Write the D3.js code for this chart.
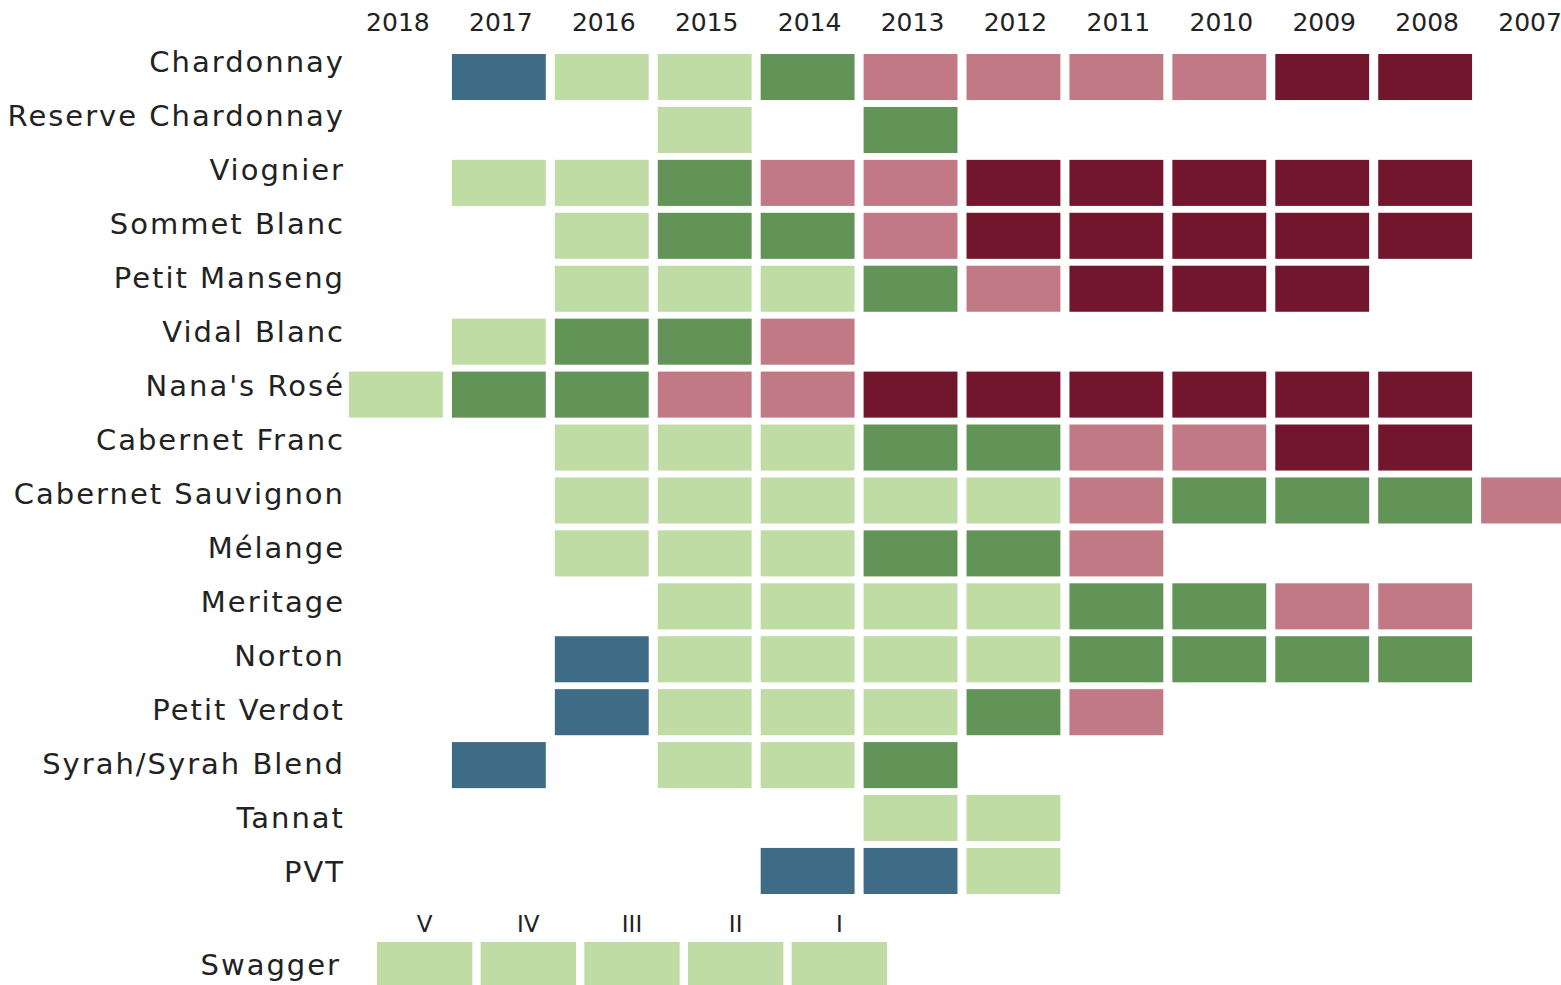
<!DOCTYPE html>
<html>
<head>
<meta charset="utf-8">
<script src="https://cdn.jsdelivr.net/npm/d3@7"></script>
<style>
  body { margin: 0; background: #fff; }
  text { font-family: "DejaVu Sans", sans-serif; fill: #222; }
</style>
</head>
<body>
<div id="chart"></div>
<script>
// vintages, newest first
var years = ["2018", "2017", "2016", "2015", "2014", "2013", "2012", "2011", "2010", "2009", "2008", "2007"];

var wines = ["Chardonnay", "Reserve Chardonnay", "Viognier", "Sommet Blanc", "Petit Manseng", "Vidal Blanc",
    "Nana's Rosé", "Cabernet Franc", "Cabernet Sauvignon", "Mélange", "Meritage", "Norton",
    "Petit Verdot", "Syrah/Syrah Blend", "Tannat", "PVT"];

// B = blue, L = light green, G = green, P = pink, M = maroon, "" = none (columns follow years)
var wineStatus = [
    ["", "B", "L", "L", "G", "P", "P", "P", "P", "M", "M", ""],
    ["", "", "", "L", "", "G", "", "", "", "", "", ""],
    ["", "L", "L", "G", "P", "P", "M", "M", "M", "M", "M", ""],
    ["", "", "L", "G", "G", "P", "M", "M", "M", "M", "M", ""],
    ["", "", "L", "L", "L", "G", "P", "M", "M", "M", "", ""],
    ["", "L", "G", "G", "P", "", "", "", "", "", "", ""],
    ["L", "G", "G", "P", "P", "M", "M", "M", "M", "M", "M", ""],
    ["", "", "L", "L", "L", "G", "G", "P", "P", "M", "M", ""],
    ["", "", "L", "L", "L", "L", "L", "P", "G", "G", "G", "P"],
    ["", "", "L", "L", "L", "G", "G", "P", "", "", "", ""],
    ["", "", "", "L", "L", "L", "L", "G", "G", "P", "P", ""],
    ["", "", "B", "L", "L", "L", "L", "G", "G", "G", "G", ""],
    ["", "", "B", "L", "L", "L", "G", "P", "", "", "", ""],
    ["", "B", "", "L", "L", "G", "", "", "", "", "", ""],
    ["", "", "", "", "", "L", "L", "", "", "", "", ""],
    ["", "", "", "", "B", "B", "L", "", "", "", "", ""]
];

var swaggerLabel = "Swagger";
var swaggerEditions = ["V", "IV", "III", "II", "I"];
var swaggerStatus = ["L", "L", "L", "L", "L"];

var statusCodes = ["B", "L", "G", "P", "M"];
var statusColors = ["#3e6b85", "#bfdca5", "#629357", "#c17a85", "#72162d"];

var width = 1561,
    height = 985;

var svg = d3.select("#chart").append("svg")
    .attr("width", width)
    .attr("height", height);

var color = d3.scaleOrdinal().domain(statusCodes).range(statusColors);

var xScale = d3.scaleBand()
    .domain(years)
    .range([349, 1575])
    .paddingInner(0.088)
    .paddingOuter(0);

var yScale = d3.scaleBand()
    .domain(wines)
    .range([54, 894])
    .paddingInner(0.13)
    .paddingOuter(0);

//Labels sit on a slightly wider spacing than the cells
var yLabel = d3.scalePoint()
    .domain(wines)
    .range([62, 872]);

//Flatten the table into cells
var cells = [];
wineStatus.forEach(function (row, i) {
    row.forEach(function (s, j) {
        if (s) cells.push({wine: wines[i], year: years[j], status: s});
    });
});

svg.append("g").attr("class", "cells")
    .selectAll("rect")
    .data(cells)
    .enter().append("rect")
    .attr("x", function (d) { return xScale(d.year); })
    .attr("y", function (d) { return yScale(d.wine); })
    .attr("width", xScale.bandwidth())
    .attr("height", yScale.bandwidth())
    .attr("fill", function (d) { return color(d.status); });

//Year labels along the top
svg.append("g").attr("class", "years")
    .selectAll("text")
    .data(years)
    .enter().append("text")
    .attr("x", function (d) { return xScale(d) + xScale.bandwidth() / 2 + 2; })
    .attr("y", 31)
    .attr("text-anchor", "middle")
    .style("font-size", "25px")
    .text(function (d) { return d; });

//Wine labels
svg.append("g").attr("class", "wines")
    .selectAll("text")
    .data(wines)
    .enter().append("text")
    .attr("x", 345)
    .attr("y", function (d) { return yLabel(d) + 10; })
    .attr("text-anchor", "end")
    .style("font-size", "29px")
    .style("letter-spacing", "2px")
    .text(function (d) { return d; });

//Swagger block
var sScale = d3.scaleBand()
    .domain(swaggerEditions)
    .range([377, 887])
    .paddingInner(0.08)
    .paddingOuter(0);

var sTop = 942;

svg.append("g").attr("class", "swagger")
    .selectAll("rect")
    .data(swaggerEditions)
    .enter().append("rect")
    .attr("x", function (d) { return sScale(d); })
    .attr("y", sTop)
    .attr("width", sScale.bandwidth())
    .attr("height", yScale.bandwidth())
    .attr("fill", function (d, i) { return color(swaggerStatus[i]); });

svg.append("g").attr("class", "editions")
    .selectAll("text")
    .data(swaggerEditions)
    .enter().append("text")
    .attr("x", function (d) { return sScale(d) + sScale.bandwidth() / 2; })
    .attr("y", 932)
    .attr("text-anchor", "middle")
    .style("font-size", "23px")
    .text(function (d) { return d; });

svg.append("text")
    .attr("x", 341)
    .attr("y", 975)
    .attr("text-anchor", "end")
    .style("font-size", "29px")
    .style("letter-spacing", "2px")
    .text(swaggerLabel);
</script>
</body>
</html>
